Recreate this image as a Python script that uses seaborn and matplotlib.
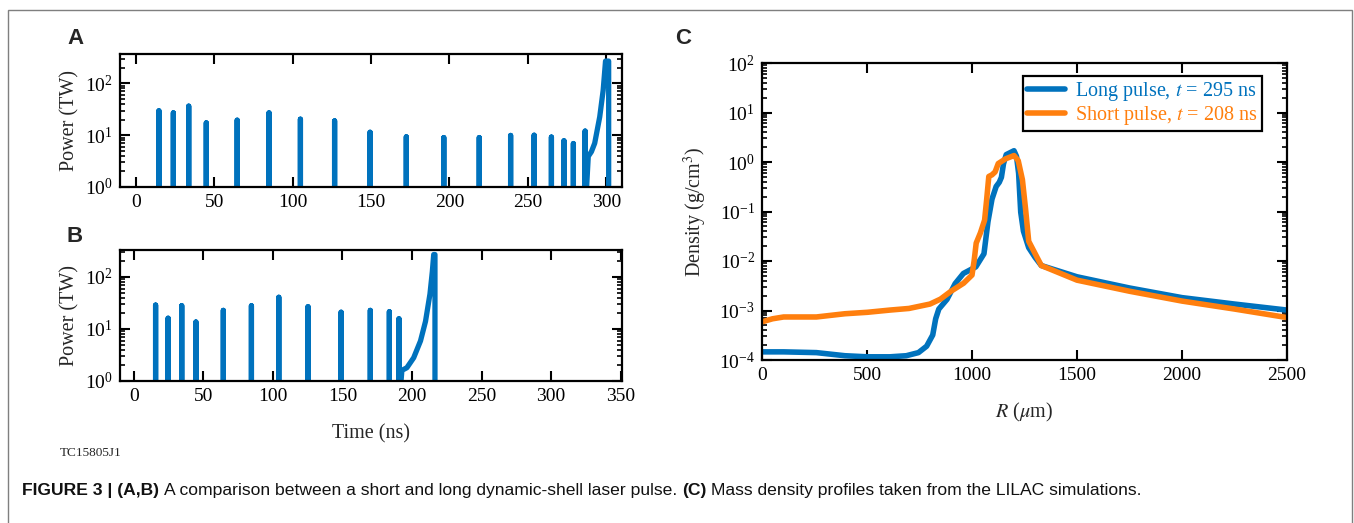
import numpy as np
import pandas as pd
import matplotlib
matplotlib.use("Agg")
import matplotlib.pyplot as plt
import matplotlib.ticker as mticker
from matplotlib.patches import Rectangle
import seaborn as sns

# ---------------- data ----------------
# Panel A: long dynamic-shell pulse (pickets + main pulse)
picket_t_A = [14.8, 24.0, 33.8, 45.0, 64.7, 85.0, 105.0, 126.8, 149.4, 172.5,
              196.4, 219.0, 239.0, 254.0, 265.0, 273.0, 279.0, 286.5]
picket_P_A = [29.6, 27.0, 36.4, 17.3, 19.5, 27.0, 20.4, 18.9, 11.4, 9.3,
              9.0, 9.0, 9.9, 10.0, 9.2, 7.8, 6.9, 12.0]
main_t_A = [288.5, 290.5, 292.6, 295.8, 298.0, 299.5, 301.5]
main_P_A = [3.9, 4.8, 7.0, 22.6, 74.0, 270.0, 270.0]

# Panel B: short dynamic-shell pulse
picket_t_B = [15.6, 24.6, 34.4, 44.6, 64.3, 84.5, 104.2, 125.2, 149.0, 170.0,
              183.7, 190.6]
picket_P_B = [28.8, 16.1, 28.0, 13.6, 22.8, 28.0, 40.7, 26.8, 21.0, 22.8,
              21.5, 15.7]
main_t_B = [192.7, 196.3, 201.2, 206.1, 209.7, 212.9, 214.6, 215.6, 216.5]
main_P_B = [1.6, 1.8, 2.8, 5.9, 14.0, 47.0, 127.0, 270.0, 270.0]

# Panel C: mass density profiles
R_long = [0, 103, 259, 395, 502, 609, 687, 745, 784, 813, 827, 842, 881, 920,
          959, 1018, 1057, 1076, 1095, 1115, 1130, 1140, 1150, 1163, 1200,
          1212, 1222, 1232, 1245, 1270, 1300, 1330, 1500, 1750, 2000, 2250, 2500]
rho_long = [1.46e-4, 1.46e-4, 1.41e-4, 1.22e-4, 1.16e-4, 1.16e-4, 1.22e-4,
            1.41e-4, 1.9e-4, 3.2e-4, 6.8e-4, 1.07e-3, 1.68e-3, 3.5e-3, 5.6e-3,
            7.6e-3, 1.4e-2, 6.2e-2, 0.177, 0.32, 0.39, 0.49, 0.92, 1.41, 1.69,
            1.3, 0.59, 0.097, 0.04, 0.0186, 0.0119, 8.1e-3, 4.8e-3, 2.85e-3,
            1.82e-3, 1.35e-3, 1.02e-3]
R_short = [0, 50, 103, 259, 395, 502, 609, 700, 800, 850, 900, 960, 1000, 1010,
           1020, 1040, 1060, 1070, 1080, 1095, 1110, 1125, 1160, 1200, 1220,
           1240, 1255, 1270, 1330, 1500, 1750, 2000, 2250, 2500]
rho_short = [5.9e-4, 6.8e-4, 7.4e-4, 7.4e-4, 8.6e-4, 9.2e-4, 1.02e-3, 1.1e-3,
             1.35e-3, 1.7e-3, 2.45e-3, 3.56e-3, 5.2e-3, 1.0e-2, 0.023, 0.037,
             0.067, 0.177, 0.51, 0.55, 0.63, 0.93, 1.16, 1.35, 1.07, 0.44,
             0.113, 0.025, 8.1e-3, 4.1e-3, 2.45e-3, 1.55e-3, 1.07e-3, 7.2e-4]

label_long = "Long pulse, $t$ = 295 ns"
label_short = "Short pulse, $t$ = 208 ns"
BLUE = "#0072BD"
ORANGE = "#FF7F0E"

# ---------------- style ----------------
sns.set_style("white")
plt.rcParams.update({
    "font.family": ["Liberation Serif", "DejaVu Serif"],
    "mathtext.fontset": "stix",
    "axes.linewidth": 1.6,
    "axes.edgecolor": "black",
    "xtick.direction": "in",
    "ytick.direction": "in",
    "xtick.top": True,
    "xtick.bottom": True,
    "ytick.left": True,
    "ytick.right": True,
    "xtick.major.size": 7,
    "ytick.major.size": 7,
    "xtick.major.width": 1.5,
    "ytick.major.width": 1.5,
    "ytick.minor.size": 3.5,
    "ytick.minor.width": 1.2,
    "xtick.color": "black",
    "ytick.color": "black",
    "xtick.labelsize": 14,
    "ytick.labelsize": 14,
    "axes.labelsize": 14.5,
    "xtick.major.pad": 5,
    "ytick.major.pad": 5,
})

W, H = 1354, 523
fig = plt.figure(figsize=(W / 100, H / 100), dpi=100)


def px_axes(l, t, r, b):
    return fig.add_axes([l / W, 1 - b / H, (r - l) / W, (b - t) / H])


def pulse_trace(pt, pp, mt, mp, floor=0.3):
    ts, ps = [], []
    for t, p in zip(pt, pp):
        ts += [t, t, t]
        ps += [floor, p, floor]
    ts += list(mt) + [mt[-1]]
    ps += list(mp) + [floor]
    return pd.DataFrame({"t": ts, "P": ps})


def style_log_axis(ax):
    ax.yaxis.set_major_locator(mticker.LogLocator(base=10, numticks=10))
    ax.yaxis.set_minor_locator(mticker.LogLocator(base=10, subs=np.arange(2, 10), numticks=10))
    ax.yaxis.set_minor_formatter(mticker.NullFormatter())
    ax.tick_params(axis="both", which="both", direction="in",
                   top=True, bottom=True, left=True, right=True)
    ax.tick_params(axis="x", which="minor", bottom=False, top=False)
    for s in ax.spines.values():
        s.set_visible(True)
        s.set_linewidth(1.6)


def style_power_axis(ax, xmax, ymax, xticks):
    ax.set_yscale("log")
    ax.set_ylim(1, ymax)
    ax.set_xlim(-10, xmax)
    ax.set_xticks(xticks)
    style_log_axis(ax)
    ax.set_ylabel("Power (TW)", labelpad=4)
    ax.set_xlabel("")


# Panel A
axA = px_axes(120, 54, 622, 187)
dfA = pulse_trace(picket_t_A, picket_P_A, main_t_A, main_P_A)
sns.lineplot(data=dfA, x="t", y="P", sort=False, estimator=None, ax=axA,
             color=BLUE, lw=3.8, solid_joinstyle="round", solid_capstyle="butt")
style_power_axis(axA, 310, 370, np.arange(0, 301, 50))

# Panel B
axB = px_axes(120, 250, 622, 381)
dfB = pulse_trace(picket_t_B, picket_P_B, main_t_B, main_P_B)
sns.lineplot(data=dfB, x="t", y="P", sort=False, estimator=None, ax=axB,
             color=BLUE, lw=3.8, solid_joinstyle="round", solid_capstyle="butt")
style_power_axis(axB, 351, 330, np.arange(0, 351, 50))
axB.set_xlabel("Time (ns)", labelpad=14)

# Panel C
axC = px_axes(762, 63, 1287, 360)
dfC = pd.concat([
    pd.DataFrame({"R": R_long, "rho": rho_long, "case": label_long}),
    pd.DataFrame({"R": R_short, "rho": rho_short, "case": label_short}),
], ignore_index=True)
sns.lineplot(data=dfC, x="R", y="rho", hue="case", sort=False, estimator=None,
             palette={label_long: BLUE, label_short: ORANGE}, lw=4.0, ax=axC)
axC.set_yscale("log")
axC.set_ylim(1e-4, 1e2)
axC.set_xlim(0, 2500)
axC.set_xticks(np.arange(0, 2501, 500))
style_log_axis(axC)
axC.set_xlabel("$R$ ($\\mu$m)", labelpad=12)
axC.set_ylabel("Density (g/cm$^3$)", labelpad=7)

leg = axC.legend(loc="upper right", bbox_to_anchor=(0.952, 0.955), fontsize=14.5,
                 frameon=True, fancybox=False, edgecolor="black", framealpha=1,
                 handlelength=1.9, handletextpad=0.5, borderpad=0.2,
                 labelspacing=0.05, borderaxespad=0.0, title=None)
leg.get_frame().set_linewidth(1.6)
for line in leg.get_lines():
    line.set_linewidth(4.0)
for txt, col in zip(leg.get_texts(), [BLUE, ORANGE]):
    txt.set_color(col)

# Panel letters
for letter, x, y in [("A", 75, 38), ("B", 75, 237), ("C", 683, 38)]:
    fig.text(x / W, 1 - y / H, letter, ha="center", va="center",
             fontsize=16, fontweight="bold", family="Liberation Sans")

fig.text(60 / W, 1 - 453 / H, "TC15805J1", ha="left", va="center", fontsize=9.5)

# Outer frame
fig.patches.append(Rectangle((8 / W, -0.2), (1352 - 8) / W, 1.2 - 10 / H,
                             transform=fig.transFigure, fill=False,
                             edgecolor="#7f7f7f", lw=1.0))

# Caption with bold parts
renderer = fig.canvas.get_renderer()
cap_parts = [("FIGURE 3 | (A,B)", "bold"),
             ("A comparison between a short and long dynamic-shell laser pulse.", "normal"),
             ("(C)", "bold"),
             ("Mass density profiles taken from the LILAC simulations.", "normal")]
cap_fs = 12.6
probe1 = fig.text(0, 0, "x x", fontsize=cap_fs, family="Liberation Sans")
probe2 = fig.text(0, 0, "xx", fontsize=cap_fs, family="Liberation Sans")
space_w = probe1.get_window_extent(renderer).width - probe2.get_window_extent(renderer).width
probe1.remove()
probe2.remove()
x_px = 22
y_cap = 1 - 490 / H
for txt, wt in cap_parts:
    t = fig.text(x_px / W, y_cap, txt, fontsize=cap_fs, fontweight=wt,
                 family="Liberation Sans", ha="left", va="center", color="#111111")
    x_px += t.get_window_extent(renderer).width + space_w

fig.savefig("out.png", dpi=100)
